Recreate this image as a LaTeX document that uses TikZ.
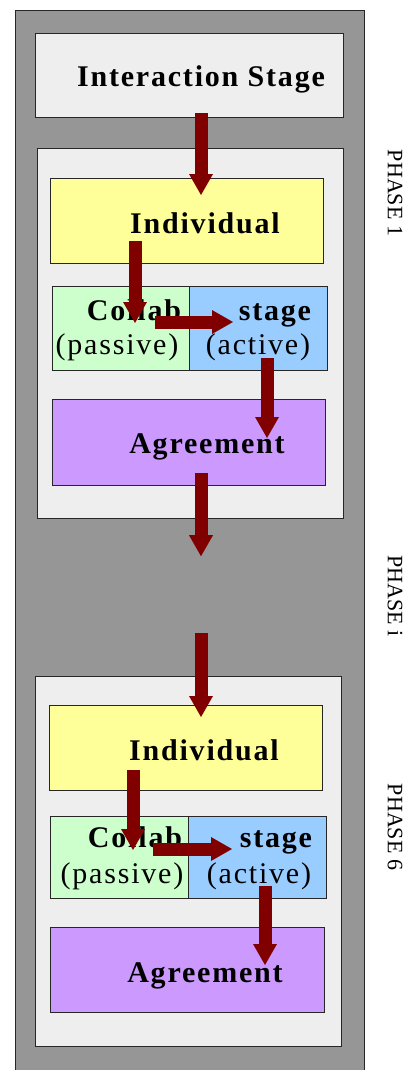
\documentclass[tikz,border=0pt]{standalone}
\usepackage{fontspec}
\setmainfont{Liberation Serif}
\newfontfamily\boxfont[LetterSpace=6]{Liberation Serif}
\usetikzlibrary{arrows.meta,calc}
\definecolor{framegray}{RGB}{150,150,150}
\definecolor{panel}{RGB}{238,238,238}
\definecolor{indivyellow}{RGB}{255,255,153}
\definecolor{passgreen}{RGB}{204,255,204}
\definecolor{actblue}{RGB}{153,204,255}
\definecolor{agreepurple}{RGB}{204,153,255}
\definecolor{flowred}{RGB}{128,0,0}
\tikzset{
  stagebox/.style={draw=black!85,line width=1.2pt,inner sep=0pt,anchor=north west},
  flow/.style={draw=flowred,line width=13pt,-{Triangle[width=24pt,length=21pt,line width=0pt]}},
  bold label/.style={anchor=base,font=\boxfont\fontsize{30}{30}\selectfont\bfseries},
  plain label/.style={anchor=base,font=\boxfont\fontsize{30}{30}\selectfont},
  phase label/.style={rotate=-90,font=\fontsize{22}{22}\selectfont}
}
\begin{document}
\begin{tikzpicture}[x=1pt,y=-1pt]
  \useasboundingbox (0,0) rectangle (411,1070);
  \begin{scope}
    \clip (0,0) rectangle (411,1070);
    \node[stagebox,fill=framegray,minimum width=349pt,minimum height=1075pt] (frame) at (15,10) {};
  \end{scope}
  \node[stagebox,fill=panel,minimum width=308pt,minimum height=84pt] (istage) at (35,33) {};
  % phase 1
  \node[stagebox,fill=panel,minimum width=306pt,minimum height=370pt] (ph1) at (37,148) {};
  \node[stagebox,fill=indivyellow,minimum width=273pt,minimum height=85pt] (ind1) at (50,178) {};
  \node[stagebox,fill=passgreen,minimum width=137pt,minimum height=84pt] (pas1) at (52,286) {};
  \node[stagebox,fill=actblue,minimum width=138pt,minimum height=84pt] (act1) at (189,286) {};
  \node[stagebox,fill=agreepurple,minimum width=273pt,minimum height=86pt] (agr1) at (52,399) {};
  % phase 6
  \node[stagebox,fill=panel,minimum width=306pt,minimum height=370pt] (ph6) at (35,676) {};
  \node[stagebox,fill=indivyellow,minimum width=273pt,minimum height=85pt] (ind6) at (49,705) {};
  \node[stagebox,fill=passgreen,minimum width=138pt,minimum height=82pt] (pas6) at (50,816) {};
  \node[stagebox,fill=actblue,minimum width=138pt,minimum height=82pt] (act6) at (188,816) {};
  \node[stagebox,fill=agreepurple,minimum width=274pt,minimum height=85pt] (agr6) at (50,927) {};

  \node[bold label] (istagetxt) at (201,87) {Interaction Stage};
  \node[bold label] (ind1txt) at (205,233) {Individual};
  \node[bold label] (col1txt) at (134,320) {Collab};
  \node[bold label] (stg1txt) at (275,320) {stage};
  \node[plain label] (pas1txt) at (117,354) {(passive)};
  \node[plain label] (act1txt) at (258,354) {(active)};
  \node[bold label] (agr1txt) at (207,453) {Agreement};
  \node[bold label] (ind6txt) at (204,760) {Individual};
  \node[bold label] (col6txt) at (135,847) {Collab};
  \node[bold label] (stg6txt) at (276,847) {stage};
  \node[plain label] (pas6txt) at (122,883) {(passive)};
  \node[plain label] (act6txt) at (259,883) {(active)};
  \node[bold label] (agr6txt) at (205,982) {Agreement};

  \node[phase label] (phase1) at (395,193) {PHASE 1};
  \node[phase label] (phasei) at (395,596) {PHASE i};
  \node[phase label] (phase6) at (395,827) {PHASE 6};

  \coordinate (gap) at ($(ph1.south west)+(164,37)$);
  \draw[flow] ($(istage.south west)+(166,-5)$) -- ($(ind1.north west)+(151,17)$);
  \draw[flow] ($(ind1.south west)+(85,-23)$) -- ($(pas1.north west)+(83,37)$);
  \draw[flow] ($(pas1.north west)+(103,36)$) -- ($(act1.north west)+(44,36)$);
  \draw[flow] ($(act1.south west)+(78,-13)$) -- ($(agr1.north west)+(215,39)$);
  \draw[flow] ($(agr1.south west)+(149,-13)$) -- (gap);
  \draw[flow] ($(ph6.north west)+(166,-43)$) -- ($(ind6.north west)+(152,12)$);
  \draw[flow] ($(ind6.south west)+(84,-21)$) -- ($(pas6.north west)+(83,34)$);
  \draw[flow] ($(pas6.north west)+(103,33)$) -- ($(act6.north west)+(44,33)$);
  \draw[flow] ($(act6.south west)+(77,-13)$) -- ($(agr6.north west)+(215,38)$);
\end{tikzpicture}
\end{document}
